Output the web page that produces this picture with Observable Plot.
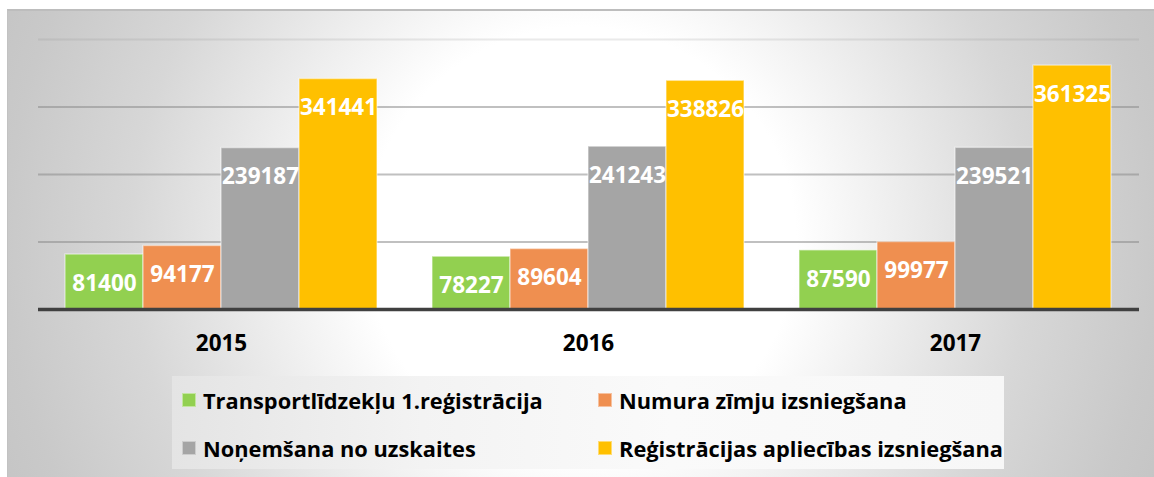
<!DOCTYPE html>
<html>
<head>
<meta charset="utf-8">
<script src="https://cdn.jsdelivr.net/npm/d3@7"></script>
<script src="https://cdn.jsdelivr.net/npm/@observablehq/plot@0.6"></script>
<style>
  html, body { margin: 0; padding: 0; background: #fff; }
  body { position: relative; width: 1154px; height: 477px; overflow: hidden; font-family: "Open Sans", Lato, sans-serif; }
  #frame {
    position: absolute; left: 7px; top: 9px; width: 1147px; height: 468px; box-sizing: border-box;
    border-top: 2px solid #bdbdbd; border-left: 1px solid #c2c2c2;
    background: radial-gradient(circle 640px at 573px 231px, #ffffff 0px, #ffffff 215px, #e8e8e8 350px, #d7d7d7 450px, #c9c9c9 575px, #c4c4c4 640px);
  }
  .layer { position: absolute; left: 0; top: 0; }
  #legend {
    position: absolute; left: 172px; top: 376px; width: 832px; height: 93px;
    background: linear-gradient(to right, #e4e4e4 0%, #f3f3f3 30%, #fafafa 60%, #f7f7f7 100%);
    display: grid; grid-template-columns: 416px 416px; grid-template-rows: 48px 45px;
    padding-left: 10px; box-sizing: border-box;
  }
  .item { display: flex; align-items: center; height: 48px; white-space: nowrap; }
  .sw { width: 14px; height: 14px; box-sizing: border-box; border: 1px solid rgba(255,255,255,0.45); margin-right: 7px; flex: none; }
  .lbl { font-family: "Open Sans", Lato, sans-serif; font-weight: bold; font-size: 21.8px; color: #000; letter-spacing: 0; }
</style>
</head>
<body>
<div id="frame"></div>
<div id="grid" class="layer"></div>
<div id="chart" class="layer"></div>
<div id="base" class="layer"></div>
<div id="legend"></div>
<script>
const years = ["2015", "2016", "2017"];
const series = [
  "Transportlīdzekļu 1.reģistrācija",
  "Numura zīmju izsniegšana",
  "Noņemšana no uzskaites",
  "Reģistrācijas apliecības izsniegšana"
];
const transportValues = [81400, 78227, 87590];
const numuraValues = [94177, 89604, 99977];
const nonemsanaValues = [239187, 241243, 239521];
const registracijaValues = [341441, 338826, 361325];
const gridTicks = [100000, 200000, 300000, 400000];
const colors = ["#92d050", "#ef8f50", "#a5a5a5", "#ffc000"];

const seriesValues = [transportValues, numuraValues, nonemsanaValues, registracijaValues];
const data = years.flatMap((year, i) =>
  series.map((s, j) => ({ year, series: s, value: seriesValues[j][i] }))
);

const common = {
  width: 1154,
  height: 370,
  marginLeft: 38,
  marginRight: 15,
  marginTop: 39,
  marginBottom: 61,
  style: {
    background: "transparent",
    fontFamily: "'Open Sans', Lato, sans-serif",
    fontSize: "22.5px",
    fontWeight: "bold",
    color: "#000",
    overflow: "visible"
  },
  y: { domain: [0, 400000], axis: null }
};

// gridlines (behind bars)
const gridPlot = Plot.plot({
  ...common,
  x: { domain: years, axis: null },
  marks: [
    Plot.ruleY(gridTicks, {
      stroke: "#8c8c8c",
      strokeOpacity: d => (d === 400000 ? 0.18 : 0.55),
      strokeWidth: 2
    })
  ]
});
document.getElementById("grid").append(gridPlot);

// bars, labels, category axis
const chart = Plot.plot({
  ...common,
  fx: { domain: years, paddingInner: 0.144, paddingOuter: 0.072, axis: "bottom", tickSize: 0, tickPadding: 26, label: null },
  x: { domain: series, padding: 0, axis: null },
  color: { domain: series, range: colors },
  marks: [
    Plot.barY(data, {
      fx: "year", x: "series", y: "value", fill: "series",
      stroke: "white", strokeOpacity: 0.45, strokeWidth: 1.5
    }),
    Plot.text(data, {
      fx: "year", x: "series", y: "value",
      text: d => String(d.value),
      dy: 29, fill: "white", fontSize: 22.5, fontWeight: "bold"
    })
  ]
});
document.getElementById("chart").append(chart);

// baseline (on top of bars)
const basePlot = Plot.plot({
  ...common,
  x: { domain: years, axis: null },
  marks: [Plot.ruleY([0], { stroke: "#404040", strokeWidth: 3.5 })]
});
document.getElementById("base").append(basePlot);

const legend = document.getElementById("legend");
[0, 1, 2, 3].forEach(j => {
  const item = document.createElement("div");
  item.className = "item";
  const sw = document.createElement("span");
  sw.className = "sw";
  sw.style.background = colors[j];
  const lbl = document.createElement("span");
  lbl.className = "lbl";
  lbl.textContent = series[j];
  item.append(sw, lbl);
  legend.append(item);
});
</script>
</body>
</html>
